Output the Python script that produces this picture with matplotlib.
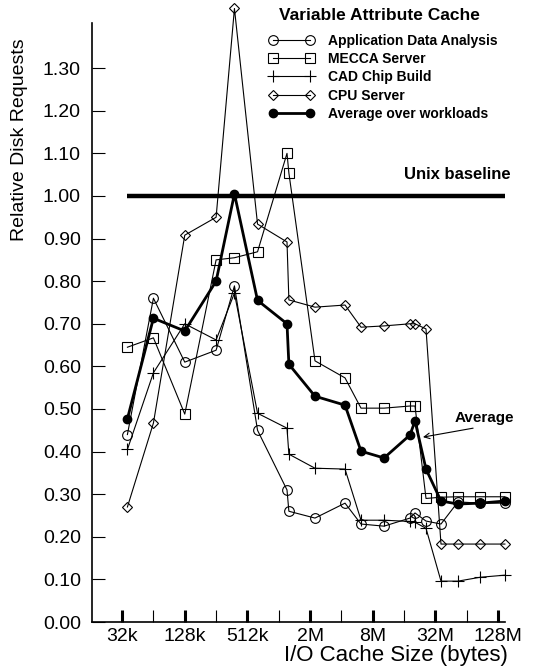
import matplotlib
matplotlib.use('Agg')
import matplotlib.pyplot as plt
from matplotlib.ticker import FixedLocator, FixedFormatter, FormatStrFormatter

plt.rcParams['font.family'] = ['Liberation Sans', 'DejaVu Sans']

# cache sizes (KB) at which the workloads were measured
cache_kb = [36, 64, 128, 256, 384, 640, 1228, 1280, 2280, 4430, 6310,
            10500, 18650, 20830, 26560, 37000, 53900, 87600, 152000]

app_data = [0.44, 0.76, 0.61, 0.638, 0.789, 0.45, 0.31, 0.26, 0.244, 0.279,
            0.23, 0.225, 0.244, 0.256, 0.237, 0.23, 0.282, 0.279, 0.279]
mecca = [0.645, 0.667, 0.488, 0.85, 0.855, 0.869, 1.10, 1.054, 0.613, 0.573,
         0.502, 0.502, 0.507, 0.507, 0.29, 0.293, 0.294, 0.294, 0.294]
cad_chip = [0.405, 0.585, 0.70, 0.662, 0.772, 0.49, 0.455, 0.394, 0.361, 0.359,
            0.239, 0.239, 0.236, 0.234, 0.22, 0.096, 0.096, 0.105, 0.11]
cpu_server = [0.27, 0.467, 0.908, 0.95, 1.44, 0.934, 0.892, 0.756, 0.739, 0.744,
              0.692, 0.695, 0.70, 0.70, 0.688, 0.183, 0.183, 0.183, 0.183]
average = [0.477, 0.713, 0.683, 0.80, 1.005, 0.755, 0.70, 0.605, 0.53, 0.509,
           0.401, 0.385, 0.439, 0.472, 0.359, 0.284, 0.277, 0.279, 0.284]

unix_baseline = 1.0

y_ticks = [i / 10 for i in range(14)]
tick_labels = ['32k', '128k', '512k', '2M', '8M', '32M', '128M']
tick_exp = [15, 17, 19, 21, 23, 25, 27]
minor_exp = [16, 18, 20, 22, 24, 26]

x = [k * 1024 for k in cache_kb]

fig = plt.figure(figsize=(5.33, 6.70), dpi=100)
ax = fig.add_axes([0.1726, 0.0716, 0.775, 0.8941])

ax.plot([x[0], x[-1]], [unix_baseline, unix_baseline], color='black', lw=3.2,
        solid_capstyle='butt', zorder=1)

kw = dict(color='black', lw=0.8, mfc='none', mew=0.8, clip_on=False)
ax.plot(x, app_data, marker='o', ms=7, label='Application Data Analysis', **kw)
ax.plot(x, mecca, marker='s', ms=6.5, label='MECCA Server', **kw)
ax.plot(x, cad_chip, marker='+', ms=8, label='CAD Chip Build', **kw)
ax.plot(x, cpu_server, marker='D', ms=5, label='CPU Server', **kw)
ax.plot(x, average, marker='o', ms=6, color='black', lw=2.0, mfc='black',
        clip_on=False, label='Average over workloads', zorder=3)

ax.set_xscale('log', base=2)
ax.set_xlim(2 ** 14.04, 2 ** 27.22)
ax.set_ylim(0, 1.406)

ax.xaxis.set_major_locator(FixedLocator([2 ** e for e in tick_exp]))
ax.xaxis.set_major_formatter(FixedFormatter(tick_labels))
ax.xaxis.set_minor_locator(FixedLocator([2 ** e for e in minor_exp]))
ax.xaxis.set_minor_formatter(FixedFormatter([]))
ax.yaxis.set_major_locator(FixedLocator(y_ticks))
ax.yaxis.set_major_formatter(FormatStrFormatter('%.2f'))
ax.yaxis.set_minor_locator(FixedLocator([]))

ax.tick_params(axis='x', which='major', direction='in', length=9, width=2.2,
               labelsize=14, pad=4)
ax.tick_params(axis='x', which='minor', direction='in', length=9, width=0.8)
ax.tick_params(axis='y', direction='in', length=9, width=0.8, labelsize=14, pad=8)

for s in ['top', 'right']:
    ax.spines[s].set_visible(False)
for s in ['left', 'bottom']:
    ax.spines[s].set_linewidth(1.2)

ax.text(2 ** 25.69, 1.05, 'Unix baseline', ha='center', va='center',
        fontsize=12, fontweight='bold')
ax.text(2 ** 26.55, 0.479, 'Average', ha='center', va='center',
        fontsize=11, fontweight='bold')
ax.annotate('', xy=(2 ** 24.6, 0.434), xytext=(2 ** 26.2, 0.455),
            arrowprops=dict(arrowstyle='->', lw=0.8, color='black',
                            shrinkA=0, shrinkB=0))

fig.text(20 / 533, 1 - 140 / 670, 'Relative Disk Requests', rotation=90,
         ha='center', va='center', fontsize=14)
fig.text(508 / 533, 1 - 655 / 670, 'I/O Cache Size (bytes)', ha='right',
         va='center', fontsize=16)

# legend title drawn separately so the gap below it matches
fig.text(379 / 533, 1 - 15 / 670, 'Variable Attribute Cache', ha='center',
         va='center', fontsize=12.5, fontweight='bold')
leg = ax.legend(loc='upper left', bbox_to_anchor=(269 / 533, 1 - 34 / 670),
                bbox_transform=fig.transFigure, frameon=False, numpoints=2,
                handlelength=3.26, handletextpad=1.0, labelspacing=0.3,
                borderpad=0, borderaxespad=0,
                prop={'weight': 'bold', 'size': 10})

fig.savefig('out.png', dpi=100)
